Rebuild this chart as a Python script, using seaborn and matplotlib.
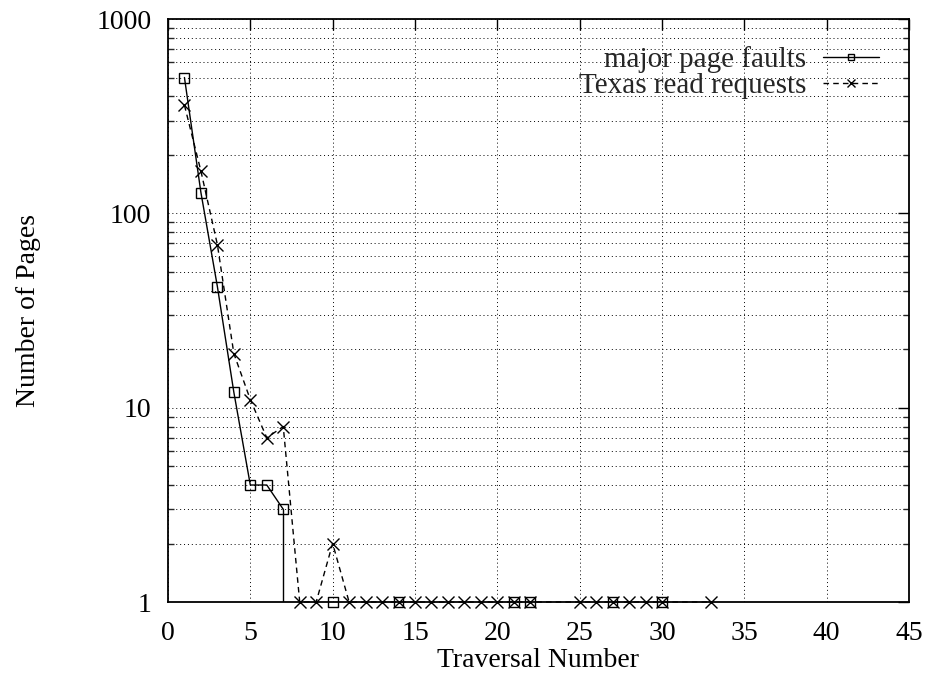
import numpy as np
import pandas as pd
import matplotlib
matplotlib.use("Agg")
import matplotlib.pyplot as plt
import seaborn as sns
from matplotlib.ticker import LogLocator, FixedLocator, NullFormatter

# Major page faults per traversal
mpf_x = [1, 2, 3, 4, 5, 6, 7, 10, 14, 21, 22, 27, 30]
mpf_y = [500, 128, 42, 12, 4, 4, 3, 1, 1, 1, 1, 1, 1]

# Texas read requests per traversal
trr_x = [1, 2, 3, 4, 5, 6, 7, 8, 9, 10, 11, 12, 13, 14, 15, 16, 17, 18, 19,
         20, 21, 22, 25, 26, 27, 28, 29, 30, 33]
trr_y = [360, 165, 69, 19, 11, 7, 8, 1, 1, 2, 1, 1, 1, 1, 1, 1, 1, 1, 1,
         1, 1, 1, 1, 1, 1, 1, 1, 1, 1]

x_ticks = [0, 5, 10, 15, 20, 25, 30, 35, 40, 45]
y_ticks = [1, 10, 100, 1000]

sns.set_theme(style="white")
plt.rcParams["font.family"] = ["Liberation Serif", "DejaVu Serif"]
plt.rcParams["axes.linewidth"] = 1.3

fig = plt.figure(figsize=(9.25, 6.74), dpi=100)
ax = fig.add_axes([0.1816, 0.1068, 0.8011, 0.865])

mpf = pd.DataFrame({"x": mpf_x, "y": mpf_y})
trr = pd.DataFrame({"x": trr_x, "y": trr_y})

# Texas read requests: dashed line with crosses
sns.lineplot(data=trr, x="x", y="y", ax=ax, sort=False, estimator=None,
             color="black", lw=1.0, linestyle=(0, (4, 3)), marker="x",
             markersize=8, markeredgewidth=1.0, markeredgecolor="black",
             clip_on=False, label="Texas read requests", legend=False)

# Major page faults: nonzero head of the series, solid line with open squares
head = mpf[mpf["y"] > 1]
sns.lineplot(data=head, x="x", y="y", ax=ax, sort=False, estimator=None,
             color="black", lw=1.0, marker="s", markersize=7,
             markerfacecolor="none", markeredgecolor="black",
             markeredgewidth=1.0, label="major page faults", legend=False)
# drop from the last nonzero value to the floor of the log axis
last = head.iloc[-1]
ax.plot([last["x"], last["x"]], [last["y"], 0.5], color="black", lw=1.0)
# tail points sitting on the floor
tail = mpf[mpf["y"] <= 1]
sns.scatterplot(data=tail, x="x", y="y", ax=ax, marker="s", s=49,
                facecolor="none", edgecolor="black", linewidth=1.0,
                clip_on=False, legend=False, zorder=3)

ax.set_yscale("log")
ax.set_xlim(0, 45)
ax.set_ylim(1, 1000)
ax.xaxis.set_major_locator(FixedLocator(x_ticks))
ax.yaxis.set_major_locator(FixedLocator(y_ticks))
ax.yaxis.set_minor_locator(LogLocator(base=10, subs=np.arange(2, 10)))
ax.yaxis.set_minor_formatter(NullFormatter())
ax.set_xticklabels([str(t) for t in x_ticks])
ax.set_yticklabels([str(t) for t in y_ticks])

ax.grid(True, which="major", axis="x", color="black", lw=0.7, ls=(0, (1, 3)))
ax.grid(True, which="both", axis="y", color="black", lw=0.7, ls=(0, (1, 3)))

ax.tick_params(axis="both", which="major", direction="in", length=8,
               width=1.0, top=True, right=True, labelsize=20, pad=12,
               colors="black")
ax.tick_params(axis="y", which="minor", direction="in", length=4,
               width=1.0, left=True, right=True)
ax.tick_params(axis="x", which="major", pad=14)
for s in ax.spines.values():
    s.set_color("black")

ax.set_xlabel("Traversal Number", fontsize=20, labelpad=1, color="black")
ax.set_ylabel("Number of Pages", fontsize=20, labelpad=40, color="black")

h, l = ax.get_legend_handles_labels()
order = [l.index("major page faults"), l.index("Texas read requests")]
ax.legend([h[i] for i in order], [l[i] for i in order], loc="upper right",
          bbox_to_anchor=(0.975, 0.974), frameon=False, markerfirst=False,
          fontsize=21, handlelength=1.9, handletextpad=0.6, labelspacing=0.0,
          borderaxespad=0, markerscale=0.7)

fig.savefig("out.png", dpi=100)
